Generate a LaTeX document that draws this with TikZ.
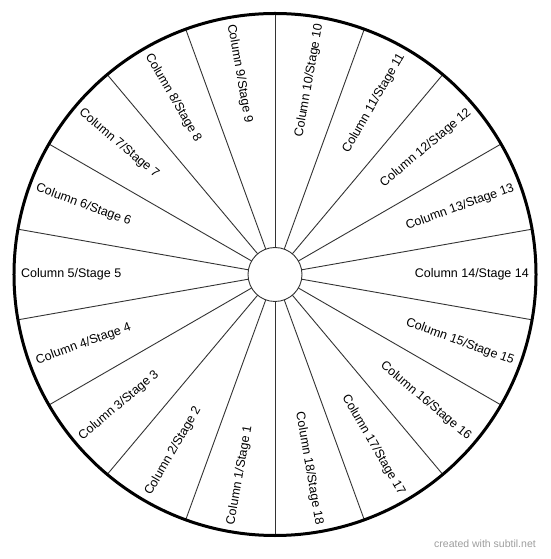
\documentclass[tikz,border=0pt]{standalone}
\usepackage{fontspec}
\setmainfont{Liberation Sans}
\begin{document}
\begin{tikzpicture}[x=1pt,y=1pt,
  spoke/.style={draw=black!80,line width=0.9pt},
  rim/.style={draw=black,line width=3pt},
  hub/.style={draw=black!80,line width=0.9pt,fill=white},
  lbl/.style={inner sep=0pt,font=\fontsize{12.5}{15}\selectfont},
  wmark/.style={inner sep=0pt,text=black!38,font=\fontsize{10.5}{12}\selectfont}]
\useasboundingbox (-275,274.5) rectangle (275,-284.5);
\fill[white] (-275,274.5) rectangle (275,-284.5);
\foreach \a in {10,30,...,350} {
  \draw[spoke] (\a:27) -- (\a:261);
}
\draw[rim] (0,0) circle (261);
\draw[hub] (0,0) circle (27);
\foreach \k in {1,...,18} {
  \pgfmathsetmacro{\ang}{mod(260-20*(\k-1)+720,360)}
  \ifdim\ang pt<90pt
    \node[lbl,rotate=\ang,anchor=east] (c\k) at (\ang:254) {Column \k/Stage \k};
  \else\ifdim\ang pt>270pt
    \node[lbl,rotate=\ang,anchor=east] (c\k) at (\ang:254) {Column \k/Stage \k};
  \else
    \node[lbl,rotate=\ang-180,anchor=west] (c\k) at (\ang:254) {Column \k/Stage \k};
  \fi\fi
}
\node[wmark] (wm) at (210,-269.5) {created with subtil.net};
\end{tikzpicture}
\end{document}
